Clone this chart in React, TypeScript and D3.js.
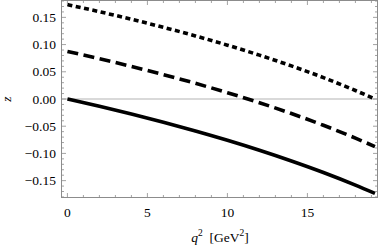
import * as d3 from "d3";

// z(q^2) for three choices of t0
const q2 = [0, 2, 4, 6, 8, 10, 12, 14, 16, 18, 19.22];
const zSolid = [0, -0.0135, -0.0277, -0.0428, -0.0588, -0.0759, -0.0942, -0.1139, -0.1351, -0.1583, -0.1735];
const zDashed = [0.0874, 0.074, 0.0599, 0.0448, 0.0288, 0.0116, -0.0068, -0.0267, -0.0483, -0.0719, -0.0874];
const zDotted = [0.1735, 0.1604, 0.1465, 0.1317, 0.1159, 0.0989, 0.0806, 0.0608, 0.0393, 0.0156, 0];

const xTicks = [0, 5, 10, 15];
const yTicks = [-0.15, -0.1, -0.05, 0, 0.05, 0.1, 0.15];

const W = 382;
const H = 249;
const MARGIN = { top: 0.5, right: 4.5, bottom: 51.5, left: 61.5 };
const TXT = { fontFamily: '"Liberation Serif"' };

export default function App() {
  const innerW = W - MARGIN.left - MARGIN.right;
  const innerH = H - MARGIN.top - MARGIN.bottom;

  const x = d3.scaleLinear().domain([-0.37, 19.38]).range([0, innerW]);
  const y = d3.scaleLinear().domain([-0.181, 0.181]).range([innerH, 0]);

  const line = d3
    .line<number>()
    .x((_, i) => x(q2[i]))
    .y((d) => y(d))
    .curve(d3.curveMonotoneX);

  const minorX = d3.range(0, 20, 1);
  const minorY = d3.range(-18, 19, 1).map((v) => v / 100);
  const frame = "#8c8c8c";

  const fmtY = (v: number) => {
    const s = Math.abs(v).toFixed(2);
    return v < -1e-9 ? "\u2212" + s : s;
  };

  return (
    <svg width={W} height={H} style={{ position: "fixed", left: 0, top: 0, background: "white" }}>
      <g transform={`translate(${MARGIN.left},${MARGIN.top})`}>
        {/* zero line */}
        <line x1={0} x2={innerW} y1={y(0)} y2={y(0)} stroke="#b4b4b4" strokeWidth={1.2} />

        {/* curves */}
        <path d={line(zSolid) ?? ""} fill="none" stroke="#000" strokeWidth={3.6} />
        <path
          d={line(zDashed) ?? ""}
          fill="none"
          stroke="#000"
          strokeWidth={3.6}
          strokeDasharray="11,5.5"
        />
        <path
          d={line(zDotted) ?? ""}
          fill="none"
          stroke="#000"
          strokeWidth={3.6}
          strokeDasharray="5,3.5"
        />

        {/* frame */}
        <rect x={0} y={0} width={innerW} height={innerH} fill="none" stroke={frame} strokeWidth={1} />

        {/* x ticks, bottom and top */}
        {minorX.map((v) => {
          const major = v % 5 === 0;
          const len = major ? 4.5 : 2.5;
          return (
            <g key={"xt" + v} stroke={frame} strokeWidth={0.8}>
              <line x1={x(v)} x2={x(v)} y1={innerH} y2={innerH - len} />
              <line x1={x(v)} x2={x(v)} y1={0} y2={len} />
            </g>
          );
        })}

        {/* y ticks, left and right */}
        {minorY.map((v, i) => {
          const major = Math.round(v * 100) % 5 === 0;
          const len = major ? 4.5 : 2.5;
          return (
            <g key={"yt" + i} stroke={frame} strokeWidth={0.8}>
              <line x1={0} x2={len} y1={y(v)} y2={y(v)} />
              <line x1={innerW} x2={innerW - len} y1={y(v)} y2={y(v)} />
            </g>
          );
        })}

        {xTicks.map((v) => (
          <text key={"xl" + v} x={x(v)} y={innerH + 19} textAnchor="middle" fontSize={13.5} style={TXT}>
            {v}
          </text>
        ))}

        {yTicks.map((v) => (
          <text
            key={"yl" + v}
            x={-5.5}
            y={y(v)}
            textAnchor="end"
            dominantBaseline="central"
            fontSize={13.5}
            style={TXT}
          >
            {fmtY(v)}
          </text>
        ))}
      </g>

      {/* axis labels */}
      <text
        transform={`translate(11,${MARGIN.top + y(0)}) rotate(-90)`}
        textAnchor="middle"
        fontSize={13.5}
        fontStyle="italic"
        style={TXT}
      >
        z
      </text>
      <text x={220} y={242} textAnchor="middle" fontSize={13.5} style={TXT}>
        <tspan fontStyle="italic">q</tspan>
        <tspan fontSize={9.5} dy={-6}>2</tspan>
        <tspan dy={6}>{"\u00a0\u00a0[GeV"}</tspan>
        <tspan fontSize={9.5} dy={-6}>2</tspan>
        <tspan dy={6}>]</tspan>
      </text>
    </svg>
  );
}
